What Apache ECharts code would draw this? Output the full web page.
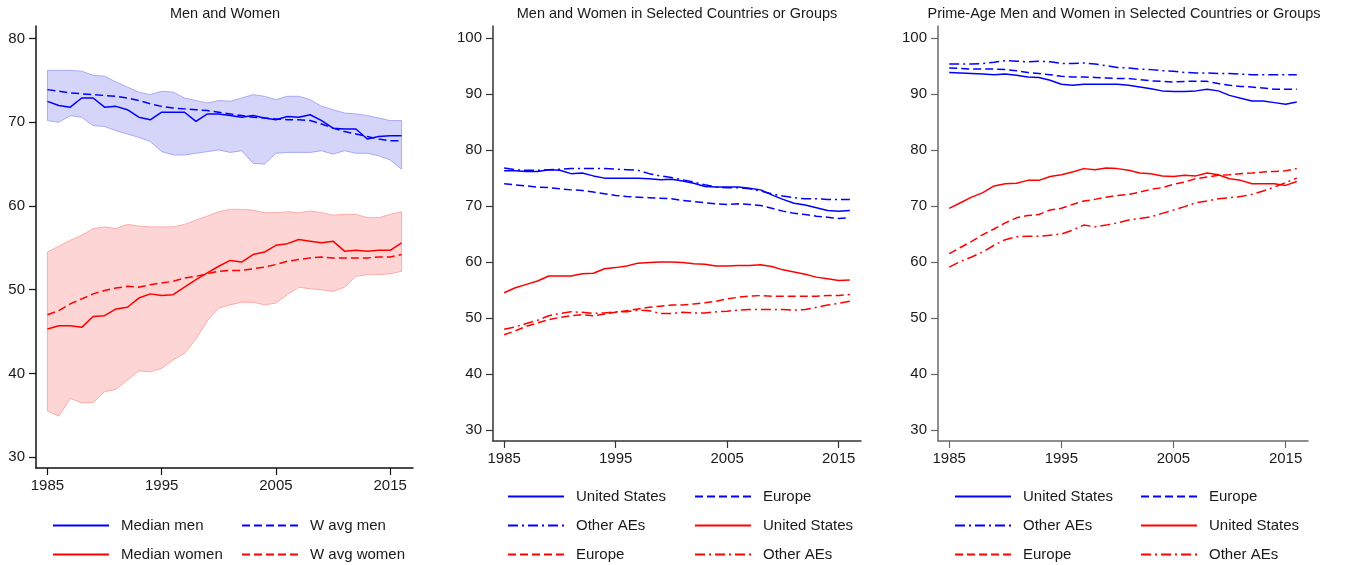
<!DOCTYPE html>
<html>
<head>
<meta charset="utf-8">
<script src="https://cdn.jsdelivr.net/npm/echarts@6/dist/echarts.min.js"></script>
<style>
  html, body { margin: 0; padding: 0; background: #fff; }
  #main { width: 1356px; height: 565px; }
</style>
</head>
<body>
<div id="main"></div>
<script>
// years and ticks
const years = [];
for (let y = 1985; y <= 2016; y++) years.push(y);
const yearTicks = [1985, 1995, 2005, 2015];
const yTicks1 = [30, 40, 50, 60, 70, 80];
const yTicks23 = [30, 40, 50, 60, 70, 80, 90, 100];

// panel 1: men and women (band = range across countries)
const menUpper = [76.2,76.2,76.2,76.1,75.6,75.5,74.8,74.2,73.6,73.3,73.7,73.6,72.9,72.6,72.3,72.6,72.5,72.9,73.3,73.1,72.7,73.1,73.1,72.7,71.9,71.5,71.1,71.0,70.8,70.5,70.2,70.2];
const menLower = [70.2,70.0,70.8,70.6,69.6,69.5,69.0,68.6,68.2,67.7,66.5,66.1,66.1,66.3,66.5,66.7,66.4,66.6,65.1,65.0,66.3,66.4,66.4,66.4,66.6,66.2,66.6,66.3,66.3,66.0,65.5,64.4];
const menMedian = [72.5,72.0,71.8,72.9,72.9,71.8,71.9,71.5,70.6,70.3,71.2,71.2,71.2,70.1,71.0,71.0,70.8,70.6,70.8,70.5,70.3,70.7,70.6,70.9,70.2,69.3,69.2,69.2,68.0,68.3,68.4,68.4];
const menWavg = [73.9,73.7,73.5,73.4,73.3,73.2,73.1,72.9,72.6,72.2,71.9,71.7,71.6,71.5,71.4,71.2,71.0,70.8,70.6,70.5,70.4,70.3,70.3,70.2,69.8,69.3,68.9,68.6,68.3,68.0,67.8,67.8];
const womenUpper = [54.5,55.2,55.9,56.5,57.3,57.5,57.3,57.8,57.6,57.5,57.5,57.5,57.8,58.3,58.8,59.3,59.6,59.6,59.5,59.2,59.2,59.3,59.2,59.4,59.2,58.9,59.0,59.0,58.6,58.6,59.0,59.3];
const womenLower = [35.5,34.9,37.0,36.5,36.5,37.8,38.1,39.2,40.3,40.2,40.6,41.6,42.4,44.1,46.3,47.8,48.2,48.5,48.5,48.2,48.4,49.4,50.3,50.1,50.0,49.8,50.3,51.6,51.8,51.8,51.9,52.2];
const womenMedian = [45.3,45.7,45.7,45.5,46.8,46.9,47.7,47.9,49.0,49.5,49.3,49.4,50.3,51.2,52.0,52.8,53.5,53.3,54.2,54.5,55.3,55.5,56.0,55.8,55.6,55.8,54.6,54.7,54.6,54.7,54.7,55.6];
const womenWavg = [47.0,47.5,48.3,48.9,49.5,49.9,50.2,50.4,50.3,50.6,50.8,51.0,51.4,51.6,51.9,52.2,52.3,52.3,52.5,52.7,53.0,53.4,53.6,53.8,53.9,53.8,53.8,53.8,53.8,53.9,53.9,54.2];

// panel 2: selected countries or groups
const p2UsMen = [76.3,76.3,76.2,76.2,76.5,76.4,75.8,75.9,75.4,75.0,75.0,75.0,75.0,74.9,74.7,74.8,74.5,74.1,73.5,73.4,73.4,73.4,73.2,72.9,72.0,71.2,70.5,70.2,69.7,69.2,69.1,69.2];
const p2EuMen = [74.0,73.8,73.6,73.4,73.3,73.1,72.9,72.8,72.5,72.2,71.9,71.7,71.6,71.5,71.4,71.3,71.0,70.8,70.6,70.4,70.3,70.4,70.3,70.1,69.6,69.1,68.7,68.5,68.2,68.0,67.8,67.9];
const p2OtherMen = [76.8,76.5,76.4,76.4,76.5,76.6,76.7,76.7,76.7,76.7,76.6,76.5,76.4,75.8,75.4,75.1,74.7,74.3,73.8,73.4,73.3,73.3,73.1,72.7,72.2,71.8,71.5,71.3,71.3,71.2,71.2,71.2];
const p2UsWomen = [54.5,55.4,56.0,56.6,57.5,57.5,57.5,57.9,58.0,58.8,59.0,59.3,59.8,59.9,60.0,60.0,59.9,59.7,59.6,59.3,59.3,59.4,59.4,59.5,59.2,58.6,58.2,57.8,57.3,57.0,56.7,56.8];
const p2EuWomen = [47.0,47.7,48.5,49.1,49.7,50.1,50.4,50.6,50.4,50.7,51.0,51.3,51.6,51.9,52.1,52.3,52.3,52.5,52.7,53.0,53.4,53.7,53.9,54.0,53.9,53.9,53.9,53.9,53.9,54.0,54.0,54.2];
const p2OtherWomen = [48.0,48.4,49.0,49.6,50.4,50.8,51.1,51.0,50.8,50.9,51.1,51.1,51.4,51.3,50.8,50.8,51.0,50.9,50.9,51.1,51.2,51.4,51.5,51.5,51.5,51.5,51.4,51.5,51.9,52.3,52.6,53.0];

// panel 3: prime-age
const p3UsMen = [93.9,93.8,93.7,93.6,93.5,93.6,93.4,93.1,93.0,92.5,91.8,91.6,91.8,91.8,91.8,91.8,91.6,91.3,91.0,90.6,90.5,90.5,90.6,90.9,90.6,89.8,89.3,88.8,88.8,88.5,88.2,88.6];
const p3EuMen = [94.7,94.6,94.5,94.5,94.5,94.4,94.2,93.9,93.7,93.5,93.2,93.1,93.1,93.0,92.9,92.8,92.8,92.6,92.4,92.3,92.2,92.3,92.3,92.3,91.9,91.6,91.4,91.3,91.1,90.9,90.9,90.9];
const p3OtherMen = [95.4,95.4,95.4,95.5,95.7,96.0,95.9,95.8,95.9,95.8,95.5,95.5,95.6,95.4,95.1,94.8,94.7,94.5,94.4,94.2,94.1,93.9,93.8,93.8,93.7,93.7,93.6,93.5,93.5,93.5,93.5,93.5];
const p3UsWomen = [69.6,70.6,71.6,72.4,73.6,74.0,74.1,74.6,74.6,75.3,75.6,76.1,76.7,76.5,76.8,76.7,76.4,75.9,75.8,75.4,75.3,75.5,75.4,75.9,75.6,74.9,74.6,74.0,74.0,74.0,73.7,74.4];
const p3EuWomen = [61.5,62.6,63.7,64.9,65.9,67.0,67.9,68.3,68.5,69.3,69.6,70.3,70.9,71.2,71.6,71.9,72.1,72.5,73.0,73.3,73.9,74.3,74.9,75.2,75.5,75.6,75.8,75.9,76.1,76.2,76.3,76.7];
const p3OtherWomen = [59.1,60.1,60.9,61.8,63.0,64.0,64.5,64.6,64.6,64.8,65.0,65.7,66.6,66.3,66.6,67.0,67.5,67.8,68.1,68.7,69.3,69.9,70.6,70.9,71.3,71.5,71.7,72.1,72.7,73.4,74.2,75.0];

const titles = ['Men and Women', 'Men and Women in Selected Countries or Groups', 'Prime-Age Men and Women in Selected Countries or Groups'];

// legend keys -> shown text
const legendText = {
  medMen: 'Median men', wavgMen: 'W avg men', medWomen: 'Median women', wavgWomen: 'W avg women',
  p2usM: 'United States', p2euM: 'Europe', p2otM: 'Other AEs', p2usW: 'United States', p2euW: 'Europe', p2otW: 'Other AEs',
  p3usM: 'United States', p3euM: 'Europe', p3otM: 'Other AEs', p3usW: 'United States', p3euW: 'Europe', p3otW: 'Other AEs'
};

const FONT = '"Liberation Sans", Arial, sans-serif';
const BLUE = '#0000ff', RED = '#ff0000';
const DASH = [8, 4], DASHDOT = [10, 4, 2, 4];

function pts(arr) { return years.map((y, i) => [y, arr[i]]); }

function line(name, idx, arr, color, type) {
  return {
    name: name, type: 'line', xAxisIndex: idx, yAxisIndex: idx,
    data: pts(arr), symbol: 'none', showSymbol: false, z: 5,
    lineStyle: { color: color, width: 1.5, type: type },
    itemStyle: { color: color }
  };
}

// shaded range between lower and upper, as a polygon through the axis scales
function band(key, lower, upper, border, fill) {
  return {
    name: key, type: 'custom', xAxisIndex: 0, yAxisIndex: 0, z: 2,
    data: [[years[0], upper[0]]],
    encode: { x: 0, y: 1 },
    renderItem: function (params, api) {
      const top = upper.map((v, i) => api.coord([years[i], v]));
      const bot = lower.map((v, i) => api.coord([years[i], v])).reverse();
      return {
        type: 'polygon',
        shape: { points: top.concat(bot) },
        style: { fill: fill, stroke: border, lineWidth: 1 }
      };
    }
  };
}

const grids = [
  { left: 36, top: 26, width: 377, height: 442 },
  { left: 493, top: 26, width: 368, height: 415 },
  { left: 938, top: 26, width: 370, height: 415 }
];
const axisColors = ['#111', '#333', '#6a6a6a'];
const yRanges = [[28.7, 81.5, yTicks1], [28, 102.2, yTicks23], [28, 102.2, yTicks23]];

const xAxes = grids.map((g, i) => ({
  type: 'value', gridIndex: i, min: 1984, max: 2017,
  splitLine: { show: false },
  axisLine: { lineStyle: { color: axisColors[i], width: 1.5 } },
  axisTick: { inside: false, customValues: yearTicks, length: 7, lineStyle: { color: axisColors[i], width: 1.2 } },
  axisLabel: { customValues: yearTicks, margin: 10, color: '#1a1a1a', fontSize: 15, fontFamily: FONT, formatter: v => String(v) }
}));
const yAxes = grids.map((g, i) => ({
  type: 'value', gridIndex: i, min: yRanges[i][0], max: yRanges[i][1],
  splitLine: { show: false },
  axisLine: { show: true, lineStyle: { color: axisColors[i], width: 1.5 } },
  axisTick: { show: true, inside: false, customValues: yRanges[i][2], length: 7, lineStyle: { color: axisColors[i], width: 1.2 } },
  axisLabel: { customValues: yRanges[i][2], margin: 11, color: '#1a1a1a', fontSize: 15, fontFamily: FONT, formatter: v => String(v) }
}));

const titleCenters = [225, 677, 1124];
const title = titles.map((t, i) => ({
  text: t, left: titleCenters[i], top: 6, textAlign: 'center', padding: 0,
  textStyle: { fontSize: 14.5, fontWeight: 'normal', color: '#1a1a1a', fontFamily: FONT }
}));

function legend(data, left, top) {
  return {
    data: data, orient: 'vertical', left: left, top: top, padding: 0,
    itemWidth: 56, itemHeight: 14, itemGap: 14,
    itemStyle: { opacity: 0 },
    formatter: n => legendText[n],
    textStyle: { fontSize: 15, color: '#1a1a1a', fontFamily: FONT, padding: [0, 0, 0, 7] },
    selectedMode: false
  };
}

const series = [
  band('menBand', menLower, menUpper, '#a9a9f7', '#d5d5fa'),
  band('womenBand', womenLower, womenUpper, '#ffaaaa', '#fdd5d5'),
  line('medMen', 0, menMedian, BLUE, 'solid'),
  line('wavgMen', 0, menWavg, BLUE, DASH),
  line('medWomen', 0, womenMedian, RED, 'solid'),
  line('wavgWomen', 0, womenWavg, RED, DASH),
  line('p2usM', 1, p2UsMen, BLUE, 'solid'),
  line('p2euM', 1, p2EuMen, BLUE, DASH),
  line('p2otM', 1, p2OtherMen, BLUE, DASHDOT),
  line('p2usW', 1, p2UsWomen, RED, 'solid'),
  line('p2euW', 1, p2EuWomen, RED, DASH),
  line('p2otW', 1, p2OtherWomen, RED, DASHDOT),
  line('p3usM', 2, p3UsMen, BLUE, 'solid'),
  line('p3euM', 2, p3EuMen, BLUE, DASH),
  line('p3otM', 2, p3OtherMen, BLUE, DASHDOT),
  line('p3usW', 2, p3UsWomen, RED, 'solid'),
  line('p3euW', 2, p3EuWomen, RED, DASH),
  line('p3otW', 2, p3OtherWomen, RED, DASHDOT)
];

const option = {
  animation: false,
  backgroundColor: '#fff',
  title: title,
  grid: grids,
  xAxis: xAxes,
  yAxis: yAxes,
  legend: [
    legend(['medMen', 'medWomen'], 52, 518),
    legend(['wavgMen', 'wavgWomen'], 241, 518),
    legend(['p2usM', 'p2otM', 'p2euW'], 507, 489),
    legend(['p2euM', 'p2usW', 'p2otW'], 694, 489),
    legend(['p3usM', 'p3otM', 'p3euW'], 954, 489),
    legend(['p3euM', 'p3usW', 'p3otW'], 1140, 489)
  ],
  series: series
};

const chart = echarts.init(document.getElementById('main'));
chart.setOption(option);
</script>
</body>
</html>
